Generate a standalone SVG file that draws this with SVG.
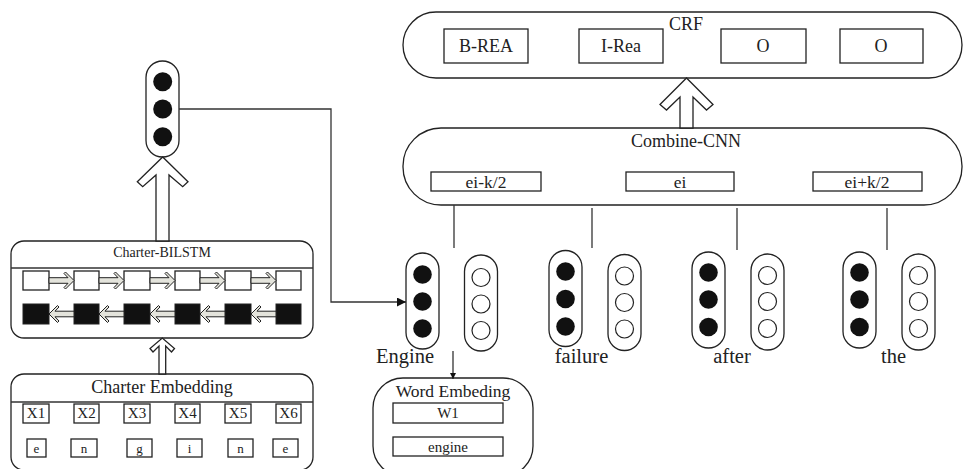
<svg xmlns="http://www.w3.org/2000/svg" width="965" height="469" viewBox="0 0 965 469">
<style>
text{font-family:'Liberation Serif','DejaVu Serif',serif;fill:#222;text-anchor:middle}
.box{fill:#fff;stroke:#222;stroke-width:1.3}
.ln{fill:none;stroke:#333;stroke-width:1.3}
.blk{fill:#111}
.wc{fill:#fff;stroke:#222;stroke-width:1.2}
.bsq{fill:#111;stroke:#222;stroke-width:1}
.ha{fill:#fff;stroke:#222;stroke-width:1.3;stroke-linejoin:miter}
.sa{fill:#e4e4dc;stroke:#222;stroke-width:1}
.t11{font-size:14px}
.t13{font-size:13px}
.t15{font-size:15px}
.t17{font-size:17.5px}
.t18{font-size:18px}
.t20{font-size:20.5px}
</style>
<defs>
<marker id="ah" viewBox="0 0 10 10" refX="10" refY="5" markerWidth="10" markerHeight="9" markerUnits="userSpaceOnUse" orient="auto"><path d="M0,0 L10,5 L0,10 z" fill="#111"/></marker>
<marker id="ahs" viewBox="0 0 10 10" refX="10" refY="5" markerWidth="7" markerHeight="6" markerUnits="userSpaceOnUse" orient="auto"><path d="M0,0 L10,5 L0,10 z" fill="#111"/></marker>
<polygon id="ra" class="sa" points="0,-2.8 19,-2.8 15,-7 16.5,-8.5 25,0 16.5,8.5 15,7 19,2.8 0,2.8"/>
<polygon id="la" class="sa" points="25,-2.8 6,-2.8 10,-7 8.5,-8.5 0,0 8.5,8.5 10,7 6,2.8 25,2.8"/>
</defs>
<g font-family="Liberation Serif, DejaVu Serif, serif">

<!-- CRF -->
<g id="crf">
<rect class="box" x="403" y="12" width="559" height="66" rx="33"/>
<text class="t18" x="686" y="30">CRF</text>
<rect class="box" x="444" y="29" width="84" height="34"/>
<text class="t18" x="486" y="52">B-REA</text>
<rect class="box" x="579" y="29" width="84" height="34"/>
<text class="t18" x="621" y="52">I-Rea</text>
<rect class="box" x="721" y="29" width="85" height="34"/>
<text class="t18" x="763" y="52">O</text>
<rect class="box" x="840" y="29" width="83" height="34"/>
<text class="t18" x="881" y="52">O</text>
</g>

<!-- Combine-CNN -->
<g id="combine-cnn">
<rect class="box" x="403" y="128" width="559" height="77" rx="38"/>
<text class="t18" x="686" y="147">Combine-CNN</text>
<rect class="box" x="431" y="172" width="110" height="19"/>
<text class="t17" x="486" y="188">ei-k/2</text>
<rect class="box" x="626" y="172" width="108" height="19"/>
<text class="t17" x="680" y="188">ei</text>
<rect class="box" x="813" y="172" width="109" height="19"/>
<text class="t17" x="867" y="188">ei+k/2</text>
</g>

<!-- char vector pill -->
<g id="char-vector">
<rect class="box" x="146" y="61" width="33" height="96" rx="16.5"/>
<circle class="blk" cx="162.7" cy="81.7" r="9.5"/>
<circle class="blk" cx="162.7" cy="109" r="9.5"/>
<circle class="blk" cx="162.7" cy="136.7" r="9.5"/>
</g>

<!-- Charter-BILSTM -->
<g id="charter-bilstm">
<rect class="box" x="11" y="241" width="302" height="97" rx="13"/>
<line class="ln" x1="11" y1="268" x2="313" y2="268"/>
<text class="t11" x="162" y="257">Charter-BILSTM</text>
<rect class="box" x="23" y="271" width="26" height="19"/>
<rect class="box" x="74" y="271" width="25" height="19"/>
<rect class="box" x="124" y="271" width="26" height="19"/>
<rect class="box" x="175" y="271" width="25" height="19"/>
<rect class="box" x="225" y="271" width="26" height="19"/>
<rect class="box" x="276" y="271" width="25" height="19"/>
<use href="#ra" x="49" y="280.5"/>
<use href="#ra" x="99" y="280.5"/>
<use href="#ra" x="150" y="280.5"/>
<use href="#ra" x="200" y="280.5"/>
<use href="#ra" x="251" y="280.5"/>
<rect class="bsq" x="23" y="304" width="26" height="20"/>
<rect class="bsq" x="74" y="304" width="25" height="20"/>
<rect class="bsq" x="124" y="304" width="26" height="20"/>
<rect class="bsq" x="175" y="304" width="25" height="20"/>
<rect class="bsq" x="225" y="304" width="26" height="20"/>
<rect class="bsq" x="276" y="304" width="25" height="20"/>
<use href="#la" x="49" y="314"/>
<use href="#la" x="99" y="314"/>
<use href="#la" x="150" y="314"/>
<use href="#la" x="200" y="314"/>
<use href="#la" x="251" y="314"/>
</g>

<!-- Charter Embedding -->
<g id="charter-embedding">
<rect class="box" x="11" y="374" width="302" height="96" rx="13"/>
<line class="ln" x1="11" y1="402" x2="313" y2="402"/>
<text class="t18" x="162" y="393">Charter Embedding</text>
<rect class="box" x="23" y="404" width="26" height="19"/>
<text class="t15" x="36" y="418">X1</text>
<rect class="box" x="74" y="404" width="25" height="19"/>
<text class="t15" x="86.5" y="418">X2</text>
<rect class="box" x="124" y="404" width="26" height="19"/>
<text class="t15" x="137" y="418">X3</text>
<rect class="box" x="175" y="404" width="25" height="19"/>
<text class="t15" x="187.5" y="418">X4</text>
<rect class="box" x="225" y="404" width="26" height="19"/>
<text class="t15" x="238" y="418">X5</text>
<rect class="box" x="276" y="404" width="25" height="19"/>
<text class="t15" x="288.5" y="418">X6</text>
<rect class="box" x="27" y="439" width="19" height="18"/>
<text class="t13" x="36.5" y="453">e</text>
<rect class="box" x="71" y="439" width="26" height="18"/>
<text class="t13" x="84" y="453">n</text>
<rect class="box" x="127" y="439" width="25" height="18"/>
<text class="t13" x="139.5" y="453">g</text>
<rect class="box" x="177" y="439" width="25" height="18"/>
<text class="t13" x="189.5" y="453">i</text>
<rect class="box" x="228" y="439" width="25" height="18"/>
<text class="t13" x="240.5" y="453">n</text>
<rect class="box" x="273" y="439" width="25" height="18"/>
<text class="t13" x="285.5" y="453">e</text>
</g>

<!-- Word nodes -->
<g id="word-engine">
<rect class="box" x="406" y="253" width="33" height="96" rx="16.5"/>
<circle class="blk" cx="422.5" cy="274.5" r="9.3"/>
<circle class="blk" cx="422.5" cy="301.5" r="9.3"/>
<circle class="blk" cx="422.5" cy="328.5" r="9.3"/>
<rect class="box" x="464.5" y="255" width="33" height="96" rx="16.5"/>
<circle class="wc" cx="481" cy="277.5" r="9"/>
<circle class="wc" cx="481" cy="304" r="9"/>
<circle class="wc" cx="481" cy="330.5" r="9"/>
<text class="t20" x="405" y="363">Engine</text>
</g>
<g id="word-failure">
<rect class="box" x="549" y="250.5" width="33" height="96" rx="16.5"/>
<circle class="blk" cx="565.5" cy="271.5" r="9.3"/>
<circle class="blk" cx="565.5" cy="299" r="9.3"/>
<circle class="blk" cx="565.5" cy="326.5" r="9.3"/>
<rect class="box" x="608" y="254.5" width="33" height="96" rx="16.5"/>
<circle class="wc" cx="624.5" cy="276" r="9"/>
<circle class="wc" cx="624.5" cy="302.5" r="9"/>
<circle class="wc" cx="624.5" cy="329" r="9"/>
<text class="t20" x="581.5" y="363">failure</text>
</g>
<g id="word-after">
<rect class="box" x="692" y="252" width="33" height="96" rx="16.5"/>
<circle class="blk" cx="708.5" cy="272.5" r="9.3"/>
<circle class="blk" cx="708.5" cy="299.5" r="9.3"/>
<circle class="blk" cx="708.5" cy="327" r="9.3"/>
<rect class="box" x="751" y="254" width="33" height="96" rx="16.5"/>
<circle class="wc" cx="767.5" cy="275.5" r="9"/>
<circle class="wc" cx="767.5" cy="301.5" r="9"/>
<circle class="wc" cx="767.5" cy="328.5" r="9"/>
<text class="t20" x="732" y="363">after</text>
</g>
<g id="word-the">
<rect class="box" x="843" y="252" width="33" height="96" rx="16.5"/>
<circle class="blk" cx="859.5" cy="272.5" r="9.3"/>
<circle class="blk" cx="859.5" cy="299.5" r="9.3"/>
<circle class="blk" cx="859.5" cy="327" r="9.3"/>
<rect class="box" x="902" y="254" width="33" height="96" rx="16.5"/>
<circle class="wc" cx="918.5" cy="275.5" r="9"/>
<circle class="wc" cx="918.5" cy="301.5" r="9"/>
<circle class="wc" cx="918.5" cy="328.5" r="9"/>
<text class="t20" x="893.5" y="363">the</text>
</g>

<!-- Word Embedding -->
<g id="word-embedding">
<rect class="box" x="373" y="378" width="160" height="98" rx="30"/>
<text class="t17" x="453" y="397">Word Embeding</text>
<rect class="box" x="393" y="403" width="110" height="20"/>
<text class="t15" x="448" y="418">W1</text>
<rect class="box" x="393" y="437" width="110" height="19"/>
<text class="t15" x="448" y="452">engine</text>
</g>

<!-- Connectors -->
<g id="connectors">
<polyline class="ln" points="179,109 331,109 331,302 406,302" marker-end="url(#ah)"/>
<line class="ln" x1="453" y1="351" x2="453" y2="379" stroke-width="2" marker-end="url(#ahs)"/>
<line class="ln" x1="454" y1="205" x2="454" y2="248"/>
<line class="ln" x1="592" y1="208" x2="592" y2="248"/>
<line class="ln" x1="737" y1="208" x2="737" y2="250"/>
<line class="ln" x1="887" y1="208" x2="887" y2="250"/>
<polygon class="ha" points="680,128 680,97 666.5,110 660,104.5 686.5,78 713,104.5 706.5,110 693,97 693,128"/>
<polygon class="ha" points="156,241 156,175 142.7,186.7 137.3,181.7 162.7,157 188,181.7 182.7,186.7 169,175 169,241"/>
<polygon class="ha" points="159,374 159,346 153,352 150,348.5 162.3,338 174.5,348.5 171.5,352 165.7,346 165.7,374"/>
</g>
</g>
</svg>
